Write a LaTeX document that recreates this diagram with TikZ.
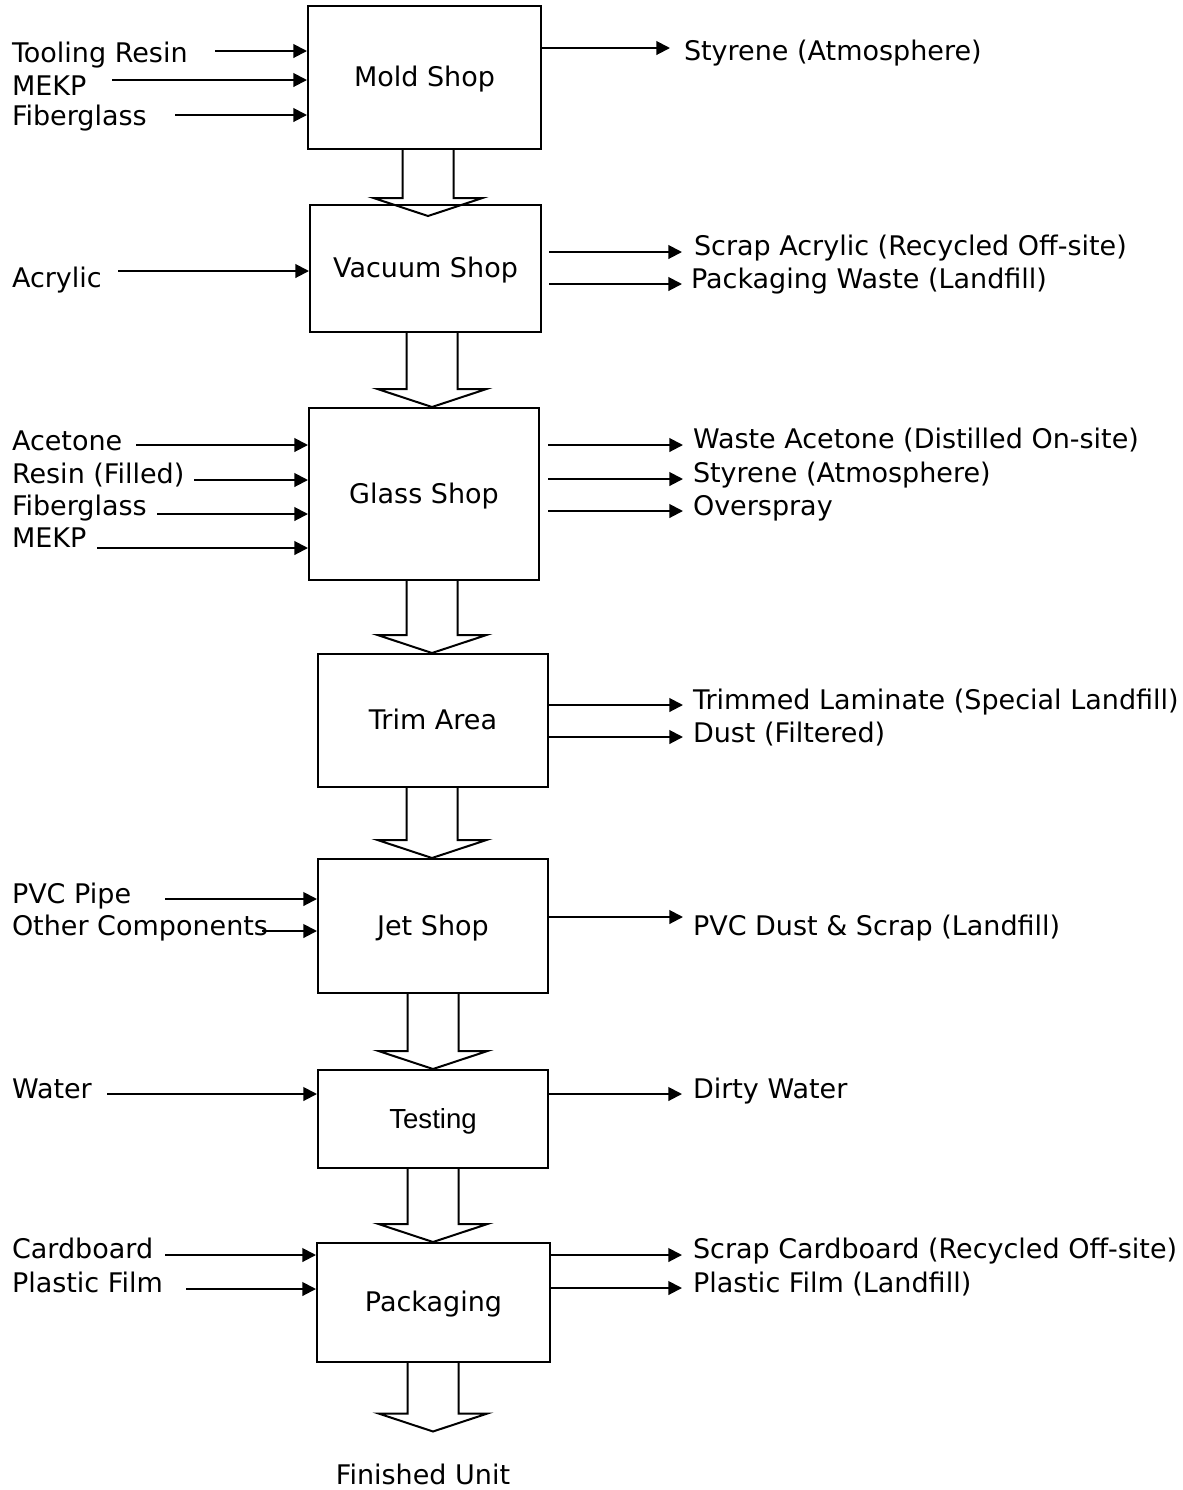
\documentclass[tikz,border=0pt]{standalone}
\usepackage{fontspec}
\setmainfont{DejaVu Sans}
\newfontfamily\arialfont{Liberation Sans}
\usetikzlibrary{arrows.meta,calc}

% open block arrow pointing down: [overlap]{x}{from anchor}{to anchor}
\newcommand{\hollowdown}[4][0]{%
  \draw[hollow] let \p1=(#3), \p2=(#4) in
    ({(#2-25.5)*0.5pt},\y1) -- ({(#2-25.5)*0.5pt},{\y2+(18-(#1))*0.5pt})
    -- ({(#2-54.5)*0.5pt},{\y2+(18-(#1))*0.5pt}) -- ({#2*0.5pt},{\y2-(#1)*0.5pt})
    -- ({(#2+54.5)*0.5pt},{\y2+(18-(#1))*0.5pt}) -- ({(#2+25.5)*0.5pt},{\y2+(18-(#1))*0.5pt})
    -- ({(#2+25.5)*0.5pt},\y1);}

\begin{document}
\begin{tikzpicture}[x=0.5pt,y=-0.5pt,line width=1pt,
                    >={Triangle[length=6.8pt,width=6.8pt]},
                    font=\fontsize{13.5}{16}\selectfont,
                    shop/.style={draw,rectangle,inner sep=0pt,text depth=0.1em},
                    lbl/.style={anchor=base west,inner sep=0pt},
                    hollow/.style={line join=miter}]
  \useasboundingbox (0,0) rectangle (1183,1490);

  \node[shop,minimum width=116.5pt,minimum height=71.5pt] (mold)      at (424.5,77.5)  {Mold Shop};
  \node[shop,minimum width=115.5pt,minimum height=63.5pt] (vacuum)    at (425.5,268.5) {Vacuum Shop};
  \node[shop,minimum width=115pt,minimum height=86pt]     (glass)     at (424,494)     {Glass Shop};
  \node[shop,minimum width=115pt,minimum height=66.5pt]   (trim)      at (433,720.5)   {Trim Area};
  \node[shop,minimum width=115pt,minimum height=67pt]     (jet)       at (433,926)     {Jet Shop};
  \node[shop,minimum width=115pt,minimum height=49pt,font=\arialfont\fontsize{13.8}{16}\selectfont]
                                                          (testing)   at (433,1119)    {Testing};
  \node[shop,minimum width=116.5pt,minimum height=59.5pt] (packaging) at (433.5,1302.5) {Packaging};
  \node[anchor=base,inner sep=0pt]                        (finished)  at (423,1484)    {Finished Unit};

  % mold shop
  \node[lbl] (toolres)   at (11,62)  {Tooling Resin};
  \node[lbl] (mekpa)     at (11,95)  {MEKP};
  \node[lbl] (fibera)    at (11,125) {Fiberglass};
  \node[lbl] (styrenea)  at (683,60) {Styrene (Atmosphere)};
  \coordinate (i1) at (215,51);
  \coordinate (i2) at (112,80);
  \coordinate (i3) at (175,115);
  \coordinate (o1) at (670,48);
  \path[->] (i1) edge (i1 -| mold.west)
            (i2) edge (i2 -| mold.west)
            (i3) edge (i3 -| mold.west)
            (o1 -| mold.east) edge (o1);

  % vacuum shop
  \node[lbl] (acrylic)   at (11,287)  {Acrylic};
  \node[lbl] (scrapacr)  at (693,255) {Scrap Acrylic (Recycled Off-site)};
  \node[lbl] (packwaste) at (690,288) {Packaging Waste (Landfill)};
  \coordinate (i4) at (118,271);
  \coordinate (o2) at (682,252);
  \coordinate (o3) at (682,284);
  \path[->] (i4) edge (i4 -| vacuum.west)
            (o2 -| 549,0) edge (o2)
            (o3 -| 549,0) edge (o3);

  % glass shop
  \node[lbl] (acetone)   at (11,450)  {Acetone};
  \node[lbl] (resin)     at (11,483)  {Resin (Filled)};
  \node[lbl] (fiberb)    at (11,515)  {Fiberglass};
  \node[lbl] (mekpb)     at (11,547)  {MEKP};
  \node[lbl] (wasteace)  at (692,448) {Waste Acetone (Distilled On-site)};
  \node[lbl] (styreneb)  at (692,482) {Styrene (Atmosphere)};
  \node[lbl] (overspray) at (692,515) {Overspray};
  \coordinate (i5) at (136,445);
  \coordinate (i6) at (194,480);
  \coordinate (i7) at (157,514);
  \coordinate (i8) at (97,548);
  \coordinate (o4) at (683,445);
  \coordinate (o5) at (683,479);
  \coordinate (o6) at (683,511);
  \path[->] (i5) edge (i5 -| glass.west)
            (i6) edge (i6 -| glass.west)
            (i7) edge (i7 -| glass.west)
            (i8) edge (i8 -| glass.west)
            (o4 -| 548,0) edge (o4)
            (o5 -| 548,0) edge (o5)
            (o6 -| 548,0) edge (o6);

  % trim area
  \node[lbl] (laminate)  at (692,709) {Trimmed Laminate (Special Landfill)};
  \node[lbl] (dust)      at (692,742) {Dust (Filtered)};
  \coordinate (o7) at (683,705);
  \coordinate (o8) at (683,737);
  \path[->] (o7 -| trim.east) edge (o7)
            (o8 -| trim.east) edge (o8);

  % jet shop
  \node[lbl] (pvcpipe)   at (11,903)  {PVC Pipe};
  \node[lbl] (othercomp) at (11,935)  {Other Components};
  \node[lbl] (pvcdust)   at (692,935) {PVC Dust \& Scrap (Landfill)};
  \coordinate (i9)  at (165,899);
  \coordinate (i10) at (262,931);
  \coordinate (o9)  at (683,917);
  \path[->] (i9) edge (i9 -| jet.west)
            (i10) edge (i10 -| jet.west)
            (o9 -| jet.east) edge (o9);

  % testing
  \node[lbl] (water)     at (11,1098)  {Water};
  \node[lbl] (dirty)     at (692,1098) {Dirty Water};
  \coordinate (i11) at (107,1094);
  \coordinate (o10) at (682,1094);
  \path[->] (i11) edge (i11 -| testing.west)
            (o10 -| testing.east) edge (o10);

  % packaging
  \node[lbl] (cardboard) at (11,1258)  {Cardboard};
  \node[lbl] (filma)     at (11,1292)  {Plastic Film};
  \node[lbl] (scrapcard) at (692,1258) {Scrap Cardboard (Recycled Off-site)};
  \node[lbl] (filmb)     at (692,1292) {Plastic Film (Landfill)};
  \coordinate (i12) at (165,1255);
  \coordinate (i13) at (186,1289);
  \coordinate (o11) at (682,1255);
  \coordinate (o12) at (682,1288);
  \path[->] (i12) edge (i12 -| packaging.west)
            (i13) edge (i13 -| packaging.west)
            (o11 -| packaging.east) edge (o11)
            (o12 -| packaging.east) edge (o12);

  % flow between shops
  \hollowdown[12]{428}{mold.south}{vacuum.north}
  \hollowdown{432}{vacuum.south}{glass.north}
  \hollowdown{432}{glass.south}{trim.north}
  \hollowdown{432}{trim.south}{jet.north}
  \hollowdown{433}{jet.south}{testing.north}
  \hollowdown{433}{testing.south}{packaging.north}
  \hollowdown[-31]{433}{packaging.south}{finished.north}
\end{tikzpicture}
\end{document}
